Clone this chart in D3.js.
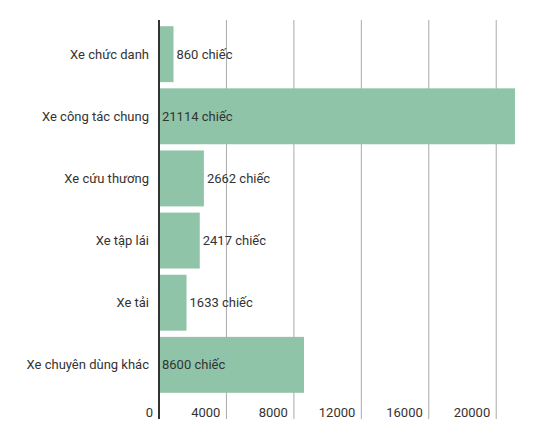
<!DOCTYPE html>
<html>
<head>
<meta charset="utf-8">
<script src="https://cdn.jsdelivr.net/npm/d3@7"></script>
<style>
  body { margin: 0; background: #fff; }
  text { font-family: Roboto, "Noto Sans", sans-serif; font-size: 13px; fill: #333; }
</style>
</head>
<body>
<div id="chart"></div>
<script>
const categories = ["Xe chức danh", "Xe công tác chung", "Xe cứu thương", "Xe tập lái", "Xe tải", "Xe chuyên dùng khác"];
const values = [860, 21114, 2662, 2417, 1633, 8600];
const tickValues = [0, 4000, 8000, 12000, 16000, 20000];
const unit = " chiếc";

const width = 539, height = 448;
const margin = {top: 20, left: 159, right: 24, bottom: 49};

const svg = d3.select("#chart").append("svg")
    .attr("width", width)
    .attr("height", height);

const x = d3.scaleLinear()
    .domain([0, d3.max(values)])
    .range([margin.left, width - margin.right]);

const y = d3.scaleBand()
    .domain(categories)
    .range([margin.top, height - margin.bottom])
    .paddingInner(0.1)
    .paddingOuter(0.1);

const gridBottom = height - margin.bottom + 20;

// gridlines
svg.append("g").selectAll("line")
    .data(tickValues.filter(d => d > 0))
    .join("line")
    .attr("x1", d => x(d)).attr("x2", d => x(d))
    .attr("y1", margin.top).attr("y2", gridBottom)
    .attr("stroke", "#aaa")
    .attr("stroke-width", 1);

// bars
svg.append("g").selectAll("rect")
    .data(categories)
    .join("rect")
    .attr("x", x(0))
    .attr("y", d => y(d))
    .attr("width", (d, i) => x(values[i]) - x(0))
    .attr("height", y.bandwidth())
    .attr("fill", "#8fc4a8");

// category labels
svg.append("g").selectAll("text")
    .data(categories)
    .join("text")
    .attr("x", x(0) - 10)
    .attr("y", d => y(d) + y.bandwidth() / 2)
    .attr("text-anchor", "end")
    .attr("dominant-baseline", "central")
    .text(d => d);

// value labels: inside when it fits, else after the bar
const vals = svg.append("g").selectAll("text")
    .data(categories)
    .join("text")
    .attr("y", d => y(d) + y.bandwidth() / 2)
    .attr("dominant-baseline", "central")
    .text((d, i) => values[i] + unit);

vals.each(function(d, i) {
    const w = this.getComputedTextLength();
    const barW = x(values[i]) - x(0);
    d3.select(this).attr("x", w + 6 < barW ? x(0) + 3 : x(values[i]) + 3);
});

// tick labels
svg.append("g").selectAll("text")
    .data(tickValues)
    .join("text")
    .attr("x", d => x(d) - 6)
    .attr("y", 412)
    .attr("text-anchor", "end")
    .attr("dominant-baseline", "central")
    .text(d => d);

// zero axis line
svg.append("line")
    .attr("x1", x(0)).attr("x2", x(0))
    .attr("y1", margin.top).attr("y2", gridBottom)
    .attr("stroke", "#333")
    .attr("stroke-width", 2);
</script>
</body>
</html>
